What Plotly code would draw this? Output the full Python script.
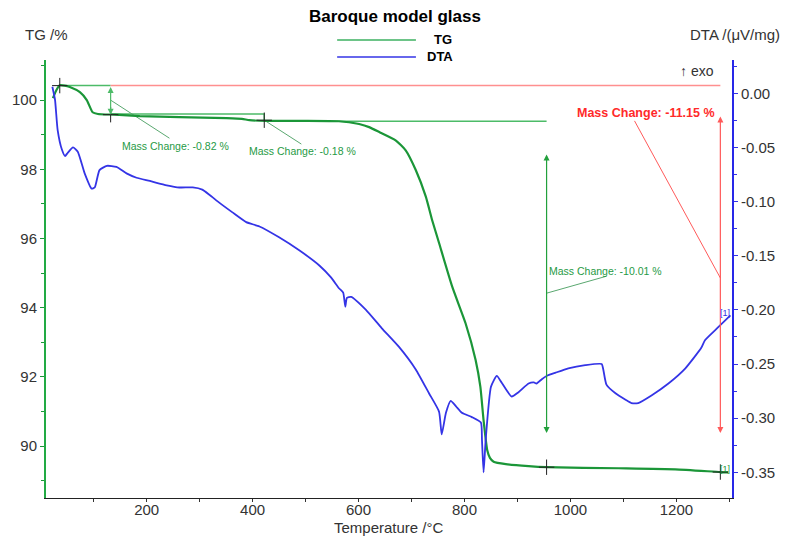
import plotly.graph_objects as go

# ---------------- data ----------------
tg_temp = [23, 30, 36, 45, 55, 74, 87, 98, 108, 140, 187, 262, 351, 380, 394, 426, 501, 563, 582, 601, 620,
           639, 670, 689, 708, 727, 739, 752, 777, 802, 821, 830, 836, 843, 848, 855, 878, 921, 955, 1091,
           1198, 1283, 1298]
tg_val = [100.06, 100.30, 100.43, 100.42, 100.38, 100.23, 100.0, 99.65, 99.60, 99.58, 99.54, 99.51, 99.48,
          99.46, 99.42, 99.40, 99.40, 99.39, 99.36, 99.31, 99.22, 99.08, 98.84, 98.55, 97.98, 97.21, 96.53,
          95.87, 94.60, 93.55, 92.49, 91.71, 90.75, 89.88, 89.66, 89.55, 89.48, 89.42, 89.39, 89.36, 89.33,
          89.25, 89.24]

dta_temp = [22, 27, 32, 40, 46, 51, 61, 70, 83, 96, 102, 111, 125, 143, 162, 181, 206, 238, 262, 287, 305,
            319, 337, 362, 388, 413, 450, 488, 526, 548, 563, 571, 575, 578, 586, 614, 644, 676, 708, 733,
            752, 757, 765, 774, 784, 795, 814, 831, 833, 836, 840, 850, 861, 870, 889, 902, 921, 931, 936,
            946, 955, 972, 996, 1028, 1059, 1062, 1068, 1085, 1104, 1115, 1128, 1153, 1185, 1217, 1247,
            1254, 1279, 1302]
dta_val = [0.006, -0.006, -0.034, -0.052, -0.058, -0.055, -0.050, -0.054, -0.074, -0.088, -0.087, -0.071,
           -0.067, -0.068, -0.074, -0.078, -0.081, -0.085, -0.087, -0.087, -0.089, -0.094, -0.101, -0.110,
           -0.119, -0.123, -0.133, -0.145, -0.159, -0.170, -0.180, -0.184, -0.197, -0.189, -0.188, -0.200,
           -0.217, -0.234, -0.255, -0.277, -0.294, -0.315, -0.295, -0.284, -0.289, -0.295, -0.299, -0.304,
           -0.320, -0.350, -0.320, -0.271, -0.261, -0.267, -0.280, -0.276, -0.268, -0.267, -0.268, -0.264,
           -0.261, -0.258, -0.254, -0.251, -0.250, -0.255, -0.269, -0.277, -0.283, -0.286, -0.286, -0.279,
           -0.268, -0.254, -0.235, -0.228, -0.216, -0.205]

# evaluation points (temperature, TG) of the mass-change steps
step_temp = [36, 132, 422, 955, 1283]
step_tg = [100.42, 99.58, 99.42, 89.39, 89.25]
mass_change_labels = ["Mass Change: -0.82 %", "Mass Change: -0.18 %",
                      "Mass Change: -10.01 %", "Mass Change: -11.15 %"]

tg_ticks = [90, 92, 94, 96, 98, 100]
dta_ticks = [0.0, -0.05, -0.10, -0.15, -0.20, -0.25, -0.30, -0.35]
dta_ticktext = ["0.00", "-0.05", "-0.10", "-0.15", "-0.20", "-0.25", "-0.30", "-0.35"]
x_ticks = [200, 400, 600, 800, 1000, 1200]

# ---------------- styles ----------------
FONT = "Liberation Sans, Arial, sans-serif"
TG_COL = "#1b9638"
LIGHT_G = "#4dbb68"
DTA_COL = "#3434e6"
RED = "#ff5a5a"
TXT = "#333333"

fig = go.Figure()

def seg(xs, ys, color, width=1.2, yaxis="y"):
    fig.add_trace(go.Scatter(x=xs, y=ys, mode="lines", line=dict(color=color, width=width),
                             yaxis=yaxis, showlegend=False, hoverinfo="skip"))

# reference lines
seg([step_temp[0], step_temp[1]], [step_tg[0], step_tg[0]], LIGHT_G, 1.5)
seg([step_temp[1], step_temp[4]], [step_tg[0], step_tg[0]], "#ff8f8f", 1.5)
seg([step_temp[1], step_temp[2], step_temp[2]], [99.60, 99.60, step_tg[2]], LIGHT_G, 1.5)
seg([step_temp[2], step_temp[3]], [99.39, 99.39], LIGHT_G, 1.5)

# leader lines
seg([step_temp[1], 243], [100.0, 98.90], "#5aa870", 1)
seg([step_temp[2], 492], [step_tg[2], 98.73], "#5aa870", 1)
seg([step_temp[3], 1068], [94.42, 94.91], "#5aa870", 1)
seg([1121, step_temp[4]], [99.40, 94.86], RED, 1)

# curves
fig.add_trace(go.Scatter(x=dta_temp, y=dta_val, mode="lines",
                         line=dict(color=DTA_COL, width=1.8, shape="spline", smoothing=0.5),
                         yaxis="y2", name="DTA", showlegend=False))
fig.add_trace(go.Scatter(x=tg_temp, y=tg_val, mode="lines",
                         line=dict(color=TG_COL, width=2.2, shape="spline", smoothing=0.5),
                         yaxis="y", name="TG", showlegend=False))

# step markers
fig.add_trace(go.Scatter(x=step_temp, y=step_tg, mode="markers",
                         marker=dict(symbol="cross-thin", size=11, line=dict(color="#222", width=1)),
                         showlegend=False, hoverinfo="skip"))

ann = []
# double arrows
for xv, y0, y1, col in [(step_temp[1], step_tg[0], step_tg[1], LIGHT_G),
                        (step_temp[3], 98.47, 90.38, "#22a03c"),
                        (step_temp[4], 99.57, 90.38, RED)]:
    ann.append(dict(x=xv, y=y1, ax=xv, ay=y0, xref="x", yref="y", axref="x", ayref="y",
                    text="", showarrow=True, arrowhead=2, arrowside="end+start",
                    arrowsize=1, arrowwidth=1.2, arrowcolor=col))

# mass change texts
ann.append(dict(x=255, y=98.67, xref="x", yref="y", text=mass_change_labels[0], showarrow=False,
                font=dict(family=FONT, size=10.5, color="#1f9a45")))
ann.append(dict(x=494, y=98.53, xref="x", yref="y", text=mass_change_labels[1], showarrow=False,
                font=dict(family=FONT, size=10.5, color="#1f9a45")))
ann.append(dict(x=955, y=95.06, xref="x", yref="y", text=mass_change_labels[2], showarrow=False,
                xanchor="left", font=dict(family=FONT, size=10.5, color="#1f9a45")))
ann.append(dict(x=1143, y=99.62, xref="x", yref="y", text="<b>" + mass_change_labels[3] + "</b>",
                showarrow=False, font=dict(family=FONT, size=12.5, color="#ff2a2a")))
ann.append(dict(x=1275, y=100.84, xref="x", yref="y", text="↑ exo", showarrow=False, xanchor="right",
                font=dict(family=FONT, size=14, color=TXT)))
ann.append(dict(x=1292, y=-0.203, xref="x", yref="y2", text="[1]", showarrow=False,
                font=dict(family=FONT, size=9, color=DTA_COL)))
ann.append(dict(x=1292, y=89.35, xref="x", yref="y", text="[1]", showarrow=False,
                font=dict(family=FONT, size=9, color=TG_COL)))

# titles (paper coords)
def px2paper(px, py):
    return (px - 46) / 688, (498 - py) / 438

def paper_text(px, py, text, size, color, bold=False):
    tx, ty = px2paper(px, py)
    ann.append(dict(x=tx, y=ty, xref="paper", yref="paper", xanchor="center", yanchor="middle",
                    text=("<b>%s</b>" % text) if bold else text, showarrow=False,
                    font=dict(family=FONT, size=size, color=color)))

paper_text(396, 17, "Baroque model glass", 17, "black", True)
paper_text(46, 35, "TG /%", 15, TXT)
paper_text(737, 35, "DTA /(μV/mg)", 15, TXT)
paper_text(390, 527, "Temperature /°C", 15, TXT)
paper_text(444, 40, "TG", 13, "black", True)
paper_text(441, 57, "DTA", 13, "black", True)

shapes = []
for py, col in [(40, "#3cb060"), (57, DTA_COL)]:
    x0, y0 = px2paper(338, py)
    x1, _ = px2paper(417, py)
    shapes.append(dict(type="line", xref="paper", yref="paper", x0=x0, x1=x1, y0=y0, y1=y0,
                       line=dict(color=col, width=1.5)))

fig.update_layout(
    width=787, height=538,
    margin=dict(l=46, r=53, t=60, b=40),
    paper_bgcolor="white", plot_bgcolor="white",
    showlegend=False,
    font=dict(family=FONT, size=15, color=TXT),
    annotations=ann, shapes=shapes,
    xaxis=dict(range=[10, 1305], tickvals=x_ticks, ticks="outside", ticklen=3, tickcolor="#333",
               ticklabelstandoff=-5,
               showline=True, linecolor="#222", linewidth=1, showgrid=False, zeroline=False,
               minor=dict(dtick=100, tick0=0, ticks="outside", ticklen=3, tickcolor="#333"),
               tickfont=dict(family=FONT, size=15, color=TXT)),
    yaxis=dict(range=[88.5, 101.16], tickvals=tg_ticks, ticks="outside", ticklen=4, tickcolor=TG_COL,
               showline=True, linecolor="#22aa44", linewidth=2, showgrid=False, zeroline=False,
               minor=dict(dtick=1, tick0=0, ticks="outside", ticklen=3, tickcolor=TG_COL),
               tickfont=dict(family=FONT, size=15, color=TXT)),
    yaxis2=dict(range=[-0.3737, 0.0307], overlaying="y", side="right", tickvals=dta_ticks,
                ticktext=dta_ticktext, ticks="outside", ticklen=4, tickcolor=DTA_COL,
                showline=True, linecolor="#2828e8", linewidth=2, showgrid=False, zeroline=False,
                minor=dict(dtick=0.025, tick0=0, ticks="outside", ticklen=3, tickcolor=DTA_COL),
                tickfont=dict(family=FONT, size=15, color=TXT)),
)

fig.write_html("out.html")
